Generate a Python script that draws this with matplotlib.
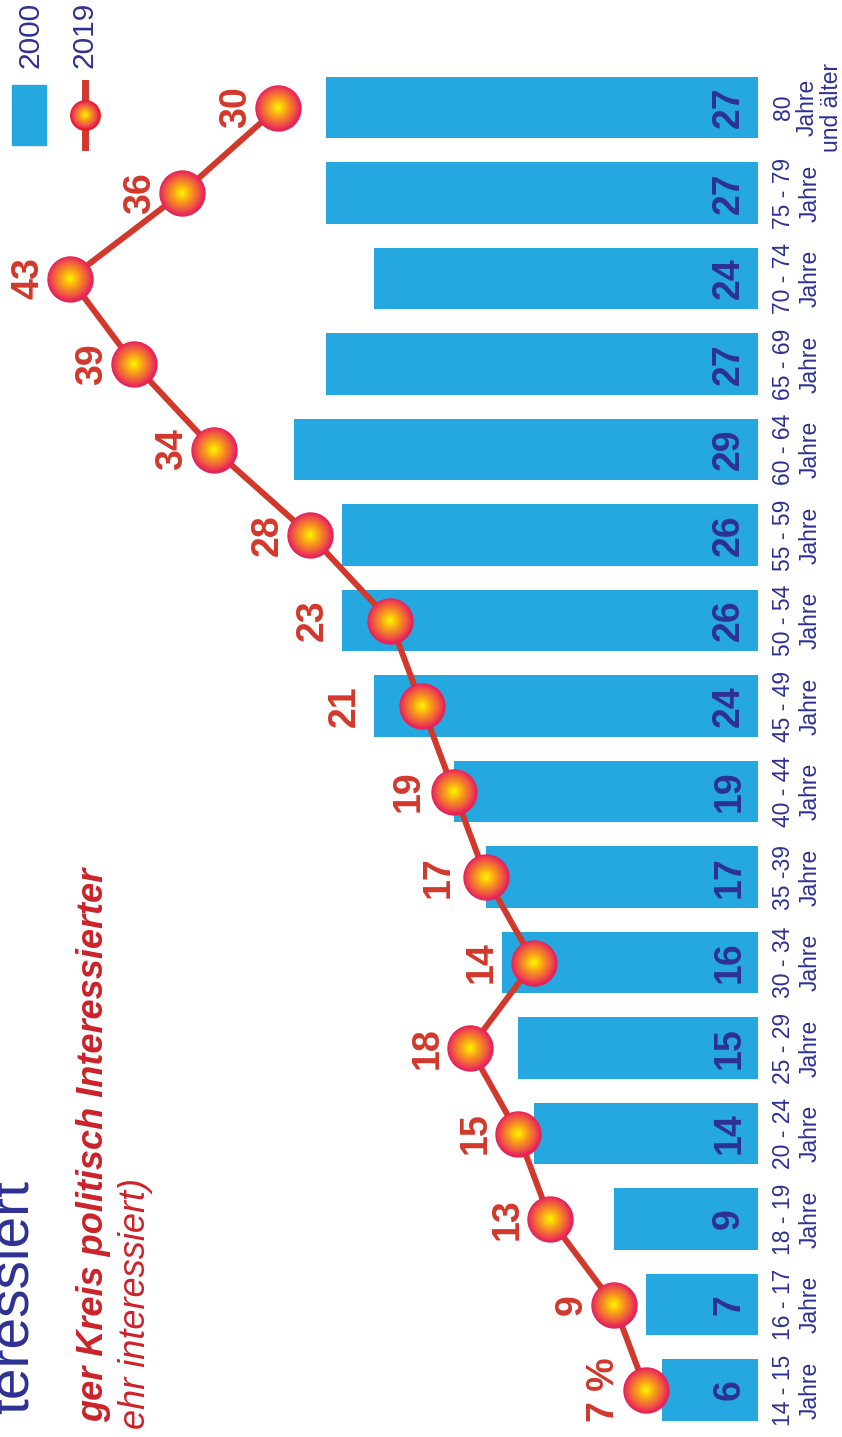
import matplotlib
matplotlib.use("Agg")
import matplotlib.pyplot as plt
from matplotlib import font_manager
from matplotlib.colors import LinearSegmentedColormap
from matplotlib.patches import Rectangle
from matplotlib.lines import Line2D

# Anteil politisch sehr Interessierter nach Altersgruppen, 2000 und 2019
groups = ["14 - 15\nJahre", "16 - 17\nJahre", "18 - 19\nJahre", "20 - 24\nJahre",
          "25 - 29\nJahre", "30 - 34\nJahre", "35 -39\nJahre", "40 - 44\nJahre",
          "45 - 49\nJahre", "50 - 54\nJahre", "55 - 59\nJahre", "60 - 64\nJahre",
          "65 - 69\nJahre", "70 - 74\nJahre", "75 - 79\nJahre", "80\nJahre\nund älter"]
share_2000 = [6, 7, 9, 14, 15, 16, 17, 19, 24, 26, 26, 29, 27, 24, 27, 27]
share_2019 = [7, 9, 13, 15, 18, 14, 17, 19, 21, 23, 28, 34, 39, 43, 36, 30]
labels_2019 = ["7 %"] + [str(v) for v in share_2019[1:]]

title = "teressiert"
subtitle = "ger Kreis politisch Interessierter"
note = "ehr interessiert)"

BAR = "#25a8e0"
NAVY = "#2e3192"
RED = "#d2382b"
HEAD_RED = "#cc2229"

available = {f.name for f in font_manager.fontManager.ttflist}
NUMFONT = "Liberation Sans Narrow" if "Liberation Sans Narrow" in available else "Liberation Sans"
TXTFONT = "Liberation Sans"

bead_cmap = LinearSegmentedColormap.from_list(
    "bead", [(0.0, "#e9255b"), (0.25, "#f05a42"), (0.55, "#f7941d"), (1.0, "#fff200")])

W, H = 842, 1437
fig = plt.figure(figsize=(W / 100, H / 100), dpi=100)

# main axes: value axis runs right to left, age groups bottom to top
ax = fig.add_axes([0, 0, 1, 1])
ax.set_xlim(758 / 16, (758 - W) / 16)
ax.set_ylim(-47 / 85.5, 1390 / 85.5)
ax.axis("off")

# overlay in pixel units for legend and headings
ov = fig.add_axes([0, 0, 1, 1], zorder=10)
ov.set_xlim(0, W)
ov.set_ylim(H, 0)
ov.axis("off")
ov.patch.set_alpha(0)


def bead(axis, x, y, diam_pt, rim, rim_w=1.0, z=5, n=28):
    axis.scatter([x], [y], s=diam_pt ** 2, color=rim, edgecolors=rim,
                 linewidths=rim_w, zorder=z)
    for k in range(1, n):
        f = 1 - k / n
        axis.scatter([x], [y], s=(diam_pt * f) ** 2, color=bead_cmap(k / (n - 1)),
                     edgecolors="none", zorder=z + k * 0.001)


pos = list(range(len(groups)))

# 2000 bars
ax.barh(pos, share_2000, height=0.725, color=BAR, zorder=1)
for i, v in enumerate(share_2000):
    ax.text(1.8, i, str(v), rotation=90, ha="center", va="center",
            fontsize=27, fontweight="bold", color=NAVY, family=NUMFONT, zorder=2)

# age group labels (the three-line one set a little tighter)
for i, g in enumerate(groups):
    ls = 1.2 if g.count("\n") < 2 else 1.05
    ax.text(758 / 16 - 772 / 16, i, g, rotation=90, ha="left", va="center",
            multialignment="center", fontsize=16.5, color=NAVY, family=TXTFONT,
            linespacing=ls)

# 2019 line with beads
ax.plot(share_2019, pos, color=RED, lw=4.3, zorder=3, solid_capstyle="round")
for i, v in enumerate(share_2019):
    bead(ax, v, i, 32.4, "#e4245a")

nudge = {5: 52, 6: 47, 7: 45, 8: 77, 9: 77}
for i, (v, lab) in enumerate(zip(share_2019, labels_2019)):
    dx = nudge.get(i, 42)
    ax.annotate(lab, (v, i), xytext=(-dx * 0.72, 0), textcoords="offset points",
                rotation=90, ha="center", va="center", fontsize=27,
                fontweight="bold", color=RED, family=NUMFONT, zorder=8)

# legend
ov.add_patch(Rectangle((12, 85), 34, 60, color=BAR))
ov.add_line(Line2D([85, 85], [83, 147], color=RED, lw=5))
bead(ov, 85, 115, 20, "#ee1c25", rim_w=2.2, z=12)
ov.text(45, 68, "2000", rotation=90, ha="right", va="bottom", fontsize=21.5,
        color=NAVY, family=TXTFONT)
ov.text(99, 68, "2019", rotation=90, ha="right", va="bottom", fontsize=21.5,
        color=NAVY, family=TXTFONT)

# headings
ov.text(40, 1180, title, rotation=90, ha="right", va="top", fontsize=41,
        color=NAVY, family=TXTFONT)
ov.text(111, 868, subtitle, rotation=90, ha="right", va="top", fontsize=26,
        fontweight="bold", fontstyle="italic", color=HEAD_RED, family=TXTFONT)
ov.text(153, 1178, note, rotation=90, ha="right", va="top", fontsize=26,
        fontstyle="italic", color=HEAD_RED, family=TXTFONT)

fig.savefig("out.png", dpi=100)
